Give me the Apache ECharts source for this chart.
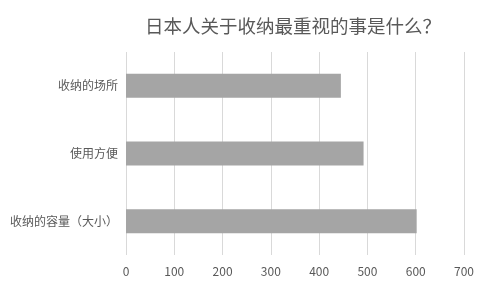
<!DOCTYPE html>
<html><head><meta charset="utf-8">
<script src="https://cdn.jsdelivr.net/npm/echarts@6/dist/echarts.min.js"></script>
<style>html,body{margin:0;padding:0;background:#fff}#c{width:480px;height:288px}</style>
</head><body><div id="c"></div>
<script>
const titleText = '日本人关于收纳最重视的事是什么？';
const categories = ['收纳的容量（大小）', '使用方便', '收纳的场所'];
const values = [602, 492, 445];
const xTicks = [0, 100, 200, 300, 400, 500, 600, 700];

const chart = echarts.init(document.getElementById('c'));
const font = '"Noto Sans CJK SC", sans-serif';
chart.setOption({
  animation: false,
  backgroundColor: '#fff',
  title: {
    text: titleText, left: 140, top: 12,
    textStyle: { fontSize: 18.5, fontWeight: 'normal', color: '#595959', fontFamily: font }
  },
  grid: { left: 126, right: 16, top: 52, bottom: 33 },
  xAxis: {
    type: 'value', min: xTicks[0], max: xTicks[xTicks.length - 1], interval: 100,
    axisLine: { show: false }, axisTick: { show: false },
    splitLine: { lineStyle: { color: '#d9d9d9', width: 1 } },
    axisLabel: { color: '#595959', fontSize: 12, fontFamily: font, margin: 10 }
  },
  yAxis: {
    type: 'category', data: categories,
    axisLine: { show: false }, axisTick: { show: false },
    axisLabel: { color: '#595959', fontSize: 12, fontFamily: font, margin: 8 }
  },
  series: [{
    type: 'bar', data: values, barWidth: 24,
    itemStyle: { color: '#a5a5a5' }
  }]
});
</script></body></html>
